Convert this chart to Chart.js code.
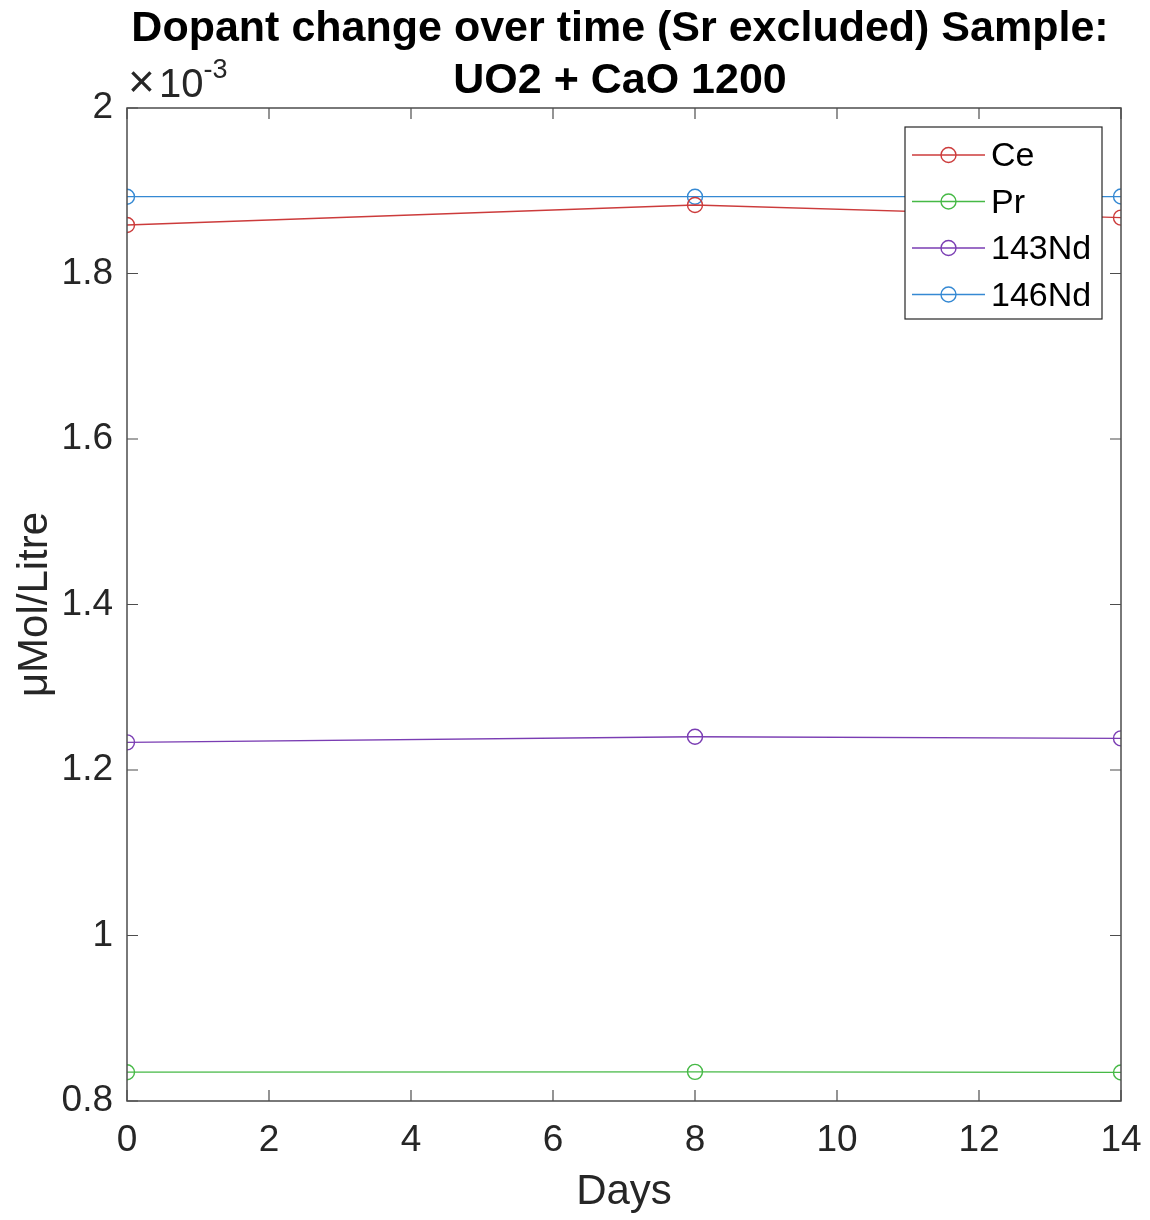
<!DOCTYPE html>
<html>
<head>
<meta charset="utf-8">
<script src="https://cdn.jsdelivr.net/npm/chart.js@4.4.1/dist/chart.umd.min.js"></script>
<style>
  html, body { margin: 0; padding: 0; background: #fff; }
  #wrap { width: 1150px; height: 1220px; }
</style>
</head>
<body>
<div id="wrap"><canvas id="chart" width="1150" height="1220"></canvas></div>
<script>
// DATA (values in units of 1e-3 µMol/Litre)
const days = [0, 8, 14];
const ce = [1.8586, 1.8828, 1.8675];
const pr = [0.8348, 0.8352, 0.8345];
const nd143 = [1.2334, 1.2402, 1.2382];
const nd146 = [1.8928, 1.8928, 1.8930];
const seriesNames = ["Ce", "Pr", "143Nd", "146Nd"];
const seriesColors = ["#cc3b3b", "#46b946", "#7a3db3", "#3589d3"];
const xTicks = [0, 2, 4, 6, 8, 10, 12, 14];
const yTicks = [0.8, 1, 1.2, 1.4, 1.6, 1.8, 2];
const titleLines = ["Dopant change over time (Sr excluded) Sample:", "UO2 + CaO 1200"];

const FONT = "Arial, 'Liberation Sans', Helvetica, sans-serif";
const TXT = "#262626";
const AX = "#4d4d4d";

function makeSet(label, vals, color) {
    return {
        label,
        data: days.map((d, i) => ({ x: d, y: vals[i] })),
        borderColor: color,
        backgroundColor: "transparent",
        borderWidth: 1.3,
        pointRadius: 7.5,
        pointHoverRadius: 7.5,
        pointBorderWidth: 1.4,
        pointBackgroundColor: "transparent",
        pointBorderColor: color,
        tension: 0
    };
}

const allSeries = [ce, pr, nd143, nd146];

// title, box, inward ticks, exponent label and legend
const matlabAxes = {
    id: "matlabAxes",
    afterDraw(chart) {
        const { ctx, chartArea: a, scales } = chart;
        ctx.save();

        // title centred over the axes
        const cx = (a.left + a.right) / 2;
        ctx.fillStyle = "#000";
        ctx.textAlign = "center";
        ctx.textBaseline = "middle";
        ctx.font = "bold 43px " + FONT;
        titleLines.forEach((t, i) => ctx.fillText(t, cx - 4, 29 + i * 52));

        ctx.strokeStyle = AX;
        ctx.lineWidth = 1.5;
        ctx.strokeRect(a.left, a.top, a.right - a.left, a.bottom - a.top);

        const tl = 11;
        ctx.lineWidth = 1.2;
        ctx.beginPath();
        xTicks.forEach(t => {
            const px = scales.x.getPixelForValue(t);
            ctx.moveTo(px, a.bottom); ctx.lineTo(px, a.bottom - tl);
            ctx.moveTo(px, a.top); ctx.lineTo(px, a.top + tl);
        });
        yTicks.forEach(t => {
            const py = scales.y.getPixelForValue(t);
            ctx.moveTo(a.left, py); ctx.lineTo(a.left + tl, py);
            ctx.moveTo(a.right, py); ctx.lineTo(a.right - tl, py);
        });
        ctx.stroke();

        // exponent
        ctx.fillStyle = TXT;
        ctx.textBaseline = "alphabetic";
        ctx.textAlign = "left";
        ctx.font = "46px " + FONT;
        ctx.fillText("\u00d7", a.left + 1, a.top - 11);
        ctx.font = "40px " + FONT;
        ctx.fillText("10", a.left + 32, a.top - 11);
        const w = ctx.measureText("10").width;
        ctx.font = "27px " + FONT;
        ctx.fillText("-3", a.left + 32 + w, a.top - 30);

        // legend
        const lx = 905, ly = 127, lw = 197, lh = 192;
        ctx.fillStyle = "#fff";
        ctx.fillRect(lx, ly, lw, lh);
        ctx.strokeStyle = "#262626";
        ctx.lineWidth = 1.2;
        ctx.strokeRect(lx, ly, lw, lh);
        ctx.font = "34px " + FONT;
        ctx.textBaseline = "middle";
        seriesNames.forEach((name, i) => {
            const cy = 155 + i * 46.5;
            ctx.strokeStyle = seriesColors[i];
            ctx.lineWidth = 1.3;
            ctx.beginPath();
            ctx.moveTo(912, cy); ctx.lineTo(985, cy);
            ctx.stroke();
            ctx.lineWidth = 1.4;
            ctx.beginPath();
            ctx.arc(948.5, cy, 7.5, 0, Math.PI * 2);
            ctx.stroke();
            ctx.fillStyle = "#000";
            ctx.fillText(name, 991, cy + 2);
        });
        ctx.restore();
    }
};

new Chart(document.getElementById("chart"), {
    type: "line",
    data: {
        datasets: allSeries.map((s, i) => makeSet(seriesNames[i], s, seriesColors[i]))
    },
    options: {
        responsive: false,
        animation: false,
        layout: { padding: { left: 0, right: 29, top: 108, bottom: 0 } },
        plugins: {
            legend: { display: false },
            tooltip: { enabled: false },
            title: { display: false }
        },
        scales: {
            x: {
                type: "linear",
                min: 0,
                max: 14,
                afterBuildTicks: s => { s.ticks = xTicks.map(v => ({ value: v })); },
                afterFit: s => { s.height = 119; s.paddingLeft = 0; s.paddingRight = 0; },
                grid: { display: false, drawTicks: false },
                border: { display: false },
                ticks: {
                    color: TXT,
                    padding: 18,
                    font: { family: FONT, size: 37 },
                    callback: v => String(v)
                },
                title: {
                    display: true,
                    text: "Days",
                    color: TXT,
                    font: { family: FONT, size: 42 },
                    padding: { top: 0, bottom: 2 }
                }
            },
            y: {
                min: 0.8,
                max: 2,
                afterBuildTicks: s => { s.ticks = yTicks.map(v => ({ value: v })); },
                afterFit: s => { s.width = 127; s.paddingTop = 0; s.paddingBottom = 0; },
                grid: { display: false, drawTicks: false },
                border: { display: false },
                ticks: {
                    color: TXT,
                    padding: 14,
                    font: { family: FONT, size: 37 },
                    callback: v => String(Math.round(v * 10) / 10)
                },
                title: {
                    display: true,
                    text: "\u03bcMol/Litre",
                    color: TXT,
                    font: { family: FONT, size: 42 },
                    padding: { top: 10, bottom: 0 }
                }
            }
        }
    },
    plugins: [matlabAxes]
});
</script>
</body>
</html>
